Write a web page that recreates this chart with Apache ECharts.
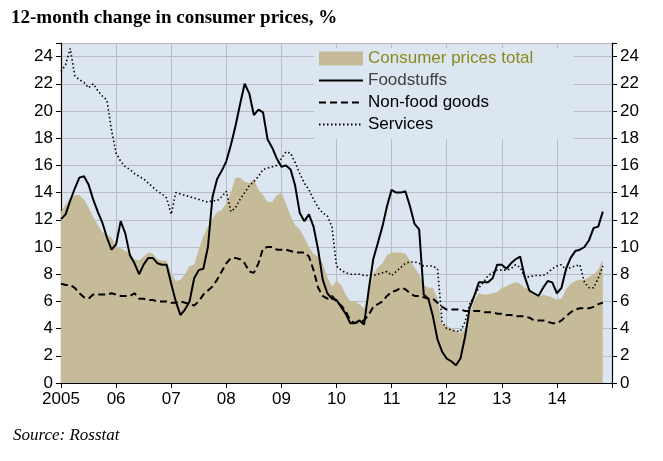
<!DOCTYPE html>
<html>
<head>
<meta charset="utf-8">
<script src="https://cdn.jsdelivr.net/npm/echarts@6/dist/echarts.min.js"></script>
<style>
  html, body { margin: 0; padding: 0; background: #fff; }
  #chart { width: 663px; height: 461px; }
</style>
</head>
<body>
<div id="chart"></div>
<script>
// monthly, Jan 2005 .. Nov 2014
var years = ['2005', '06', '07', '08', '09', '10', '11', '12', '13', '14', '15'];

var total = [
  12.6, 13.1, 13.6, 13.8, 13.8, 13.5, 12.9, 12.2, 11.6, 11.1, 10.9, 10.7,
  10.0, 9.9, 9.7, 9.6, 9.1, 9.0, 9.3, 9.6, 9.5, 9.1, 9.0, 9.0,
  8.1, 7.5, 7.6, 8.0, 8.6, 8.7, 9.8, 10.8, 11.5, 12.1, 12.6, 12.7,
  13.2, 14.0, 15.1, 15.1, 14.8, 14.7, 15.0, 14.2, 13.8, 13.3, 13.3, 13.8,
  14.0, 13.2, 12.3, 11.6, 11.3, 10.7, 10.0, 9.5, 9.3, 8.8, 7.8, 7.1,
  7.5, 7.2, 6.5, 6.0, 6.0, 5.8, 5.5, 6.5, 8.0, 8.5, 8.8, 9.4,
  9.6, 9.6, 9.6, 9.5, 9.0, 8.5, 8.0, 7.2, 7.0, 7.0, 6.2, 4.3,
  4.2, 4.0, 3.8, 3.7, 3.9, 5.0, 6.1, 6.6, 6.5, 6.5, 6.6, 6.7,
  7.0, 7.1, 7.3, 7.4, 7.3, 7.0, 6.9, 6.5, 6.3, 6.5, 6.4, 6.3,
  6.1, 6.2, 6.9, 7.3, 7.5, 7.6, 7.6, 7.8, 8.0, 8.3, 9.1
];

var food = [
  12.05, 12.4, 13.4, 14.3, 15.1, 15.2, 14.6, 13.5, 12.6, 11.8, 10.7, 9.8,
  10.2, 11.9, 11.0, 9.4, 8.8, 8.0, 8.7, 9.2, 9.2, 8.8, 8.7, 8.7,
  7.3, 6.0, 5.0, 5.4, 6.0, 7.7, 8.3, 8.4, 10.0, 13.7, 15.0, 15.6,
  16.3, 17.5, 18.9, 20.5, 22.0, 21.3, 19.7, 20.1, 19.9, 17.9, 17.3, 16.5,
  15.9, 16.0, 15.7, 14.5, 12.5, 11.9, 12.4, 11.5, 9.8, 7.6, 6.6, 6.2,
  6.1, 5.6, 5.1, 4.4, 4.4, 4.6, 4.3, 6.8, 9.1, 10.3, 11.5, 13.0,
  14.2, 14.0, 14.0, 14.1, 13.0, 11.7, 11.3, 6.5, 6.2, 4.9, 3.2, 2.3,
  1.8, 1.6, 1.3, 1.8, 3.4, 5.5, 6.4, 7.4, 7.4, 7.4, 7.7, 8.7,
  8.7, 8.4, 8.8, 9.1, 9.3, 7.8, 6.8, 6.6, 6.4, 7.0, 7.5, 7.4,
  6.6, 7.0, 8.4, 9.2, 9.7, 9.8, 10.0, 10.5, 11.4, 11.5, 12.6
];

var nonFood = [
  7.3, 7.2, 7.2, 7.0, 6.6, 6.3, 6.2, 6.5, 6.5, 6.5, 6.5, 6.6,
  6.5, 6.4, 6.4, 6.4, 6.6, 6.2, 6.2, 6.1, 6.1, 6.0, 6.0, 6.0,
  5.9, 5.9, 6.0, 5.9, 5.8, 5.7, 6.0, 6.5, 6.8, 7.1, 7.6, 8.2,
  8.8, 9.2, 9.2, 9.1, 8.8, 8.2, 8.1, 8.8, 9.9, 10.0, 10.0, 9.8,
  9.8, 9.8, 9.7, 9.6, 9.6, 9.6, 9.3, 8.3, 7.0, 6.4, 6.2, 6.4,
  6.0, 5.7, 5.3, 4.6, 4.4, 4.5, 4.6, 5.0, 5.6, 5.8, 6.0, 6.4,
  6.7, 6.8, 7.0, 6.9, 6.6, 6.4, 6.4, 6.3, 6.2, 6.2, 5.9, 5.6,
  5.4, 5.4, 5.4, 5.4, 5.3, 5.3, 5.3, 5.3, 5.2, 5.2, 5.2, 5.1,
  5.1, 5.0, 5.0, 4.9, 4.9, 4.9, 4.8, 4.6, 4.6, 4.6, 4.5, 4.4,
  4.4, 4.6, 4.9, 5.2, 5.4, 5.5, 5.5, 5.5, 5.6, 5.8, 5.9
];

var services = [
  22.9, 23.4, 24.6, 22.6, 22.3, 22.1, 21.7, 22.0, 21.5, 21.1, 20.8, 18.6,
  16.9, 16.3, 15.9, 15.7, 15.4, 15.2, 15.0, 14.7, 14.4, 14.1, 13.9, 13.6,
  12.4, 14.0, 13.9, 13.8, 13.7, 13.6, 13.5, 13.4, 13.3, 13.4, 13.4, 13.7,
  14.1, 12.6, 12.9, 13.5, 14.0, 14.5, 14.8, 15.2, 15.7, 15.8, 15.9, 16.0,
  16.5, 17.0, 16.9, 16.2, 15.4, 14.7, 14.2, 13.5, 12.9, 12.5, 12.3, 11.5,
  8.6, 8.3, 8.1, 8.0, 8.0, 8.0, 7.9, 7.9, 7.9, 8.0, 8.1, 8.2,
  7.9, 8.2, 8.5, 8.8, 8.9, 8.9, 8.8, 8.6, 8.6, 8.6, 8.4, 4.5,
  4.0, 3.9, 3.8, 3.8, 4.5, 5.8, 6.4, 7.0, 7.4, 7.9, 8.1, 8.3,
  8.3, 8.3, 8.4, 8.7, 8.5, 7.8, 7.8, 7.9, 7.9, 7.9, 8.1, 8.4,
  8.6, 8.7, 8.3, 8.5, 8.6, 8.7, 7.4, 7.0, 7.0, 7.7, 8.6
];

var months = [];
for (var y = 0; y < years.length; y++) {
  for (var m = 0; m < 12; m++) {
    if (y === years.length - 1 && m > 0) break;
    months.push(years[y] + '-' + (m + 1));
  }
}
function isJan(i) { return i % 12 === 0; }

var chart = echarts.init(document.getElementById('chart'));
var axisLab = { color: '#000', fontSize: 17, fontFamily: 'Liberation Sans' };
var yCommon = {
  type: 'value', min: 0, max: 25, interval: 2,
  axisLine: { show: true, lineStyle: { color: '#000', width: 1.2 } },
  axisTick: { show: true, length: 5, lineStyle: { color: '#000' } },
  axisLabel: Object.assign({ formatter: function (v) { return v > 24 ? '' : v; } }, axisLab),
  splitLine: { show: true, lineStyle: { color: '#b9bcc2', width: 1 } }
};
var noDot = { opacity: 0 };

chart.setOption({
  animation: false,
  title: [{
    text: '12-month change in consumer prices, %', left: 6, top: 4,
    textStyle: { fontFamily: 'Liberation Serif', fontWeight: 'bold', fontSize: 19, color: '#000' }
  }, {
    text: 'Source: Rosstat', left: 8, top: 422,
    textStyle: { fontFamily: 'Liberation Serif', fontStyle: 'italic', fontWeight: 'normal', fontSize: 17, color: '#000' }
  }],
  grid: { left: 61, right: 51, top: 43, bottom: 78, show: true, backgroundColor: '#dce6f1', borderWidth: 0 },
  legend: {
    orient: 'vertical', left: 314, top: 48, itemGap: 5, itemWidth: 44, itemHeight: 14,
    backgroundColor: '#dce6f1', padding: [2, 40, 6, 4],
    textStyle: { fontSize: 17, fontFamily: 'Liberation Sans', color: '#000' },
    data: [
      { name: 'Consumer prices total', icon: 'rect', textStyle: { color: '#8a8a1e' } },
      { name: 'Foodstuffs', itemStyle: noDot, textStyle: { color: '#404040' } },
      { name: 'Non-food goods', itemStyle: noDot },
      { name: 'Services', itemStyle: noDot }
    ]
  },
  xAxis: {
    type: 'category', data: months, boundaryGap: false,
    axisLine: { lineStyle: { color: '#000', width: 1.2 } },
    axisTick: { show: true, interval: isJan, length: 5, lineStyle: { color: '#000' } },
    axisLabel: Object.assign({
      interval: isJan, margin: 8,
      formatter: function (v) { var s = v.split('-')[0]; return s === '15' ? '' : s; }
    }, axisLab),
    splitLine: { show: true, interval: isJan, lineStyle: { color: '#b9bcc2', width: 1 } }
  },
  yAxis: [yCommon, Object.assign({}, yCommon, { position: 'right', splitLine: { show: false } })],
  series: [{
    name: 'Consumer prices total', type: 'line', data: total, symbol: 'none',
    lineStyle: { width: 0, color: '#c5bb98' }, itemStyle: { color: '#c5bb98' },
    areaStyle: { color: '#c5bb98', opacity: 1 }, z: 1
  }, {
    name: 'Foodstuffs', type: 'line', data: food, symbol: 'none',
    lineStyle: { width: 2, color: '#000' }, itemStyle: { color: '#000' }, z: 4
  }, {
    name: 'Non-food goods', type: 'line', data: nonFood, symbol: 'none',
    lineStyle: { width: 2, color: '#000', type: [7, 4] }, itemStyle: { color: '#000' }, z: 3
  }, {
    name: 'Services', type: 'line', data: services, symbol: 'none',
    lineStyle: { width: 1.6, color: '#000', type: [1.5, 2.5] }, itemStyle: { color: '#000' }, z: 3
  }]
});
</script>
</body>
</html>
